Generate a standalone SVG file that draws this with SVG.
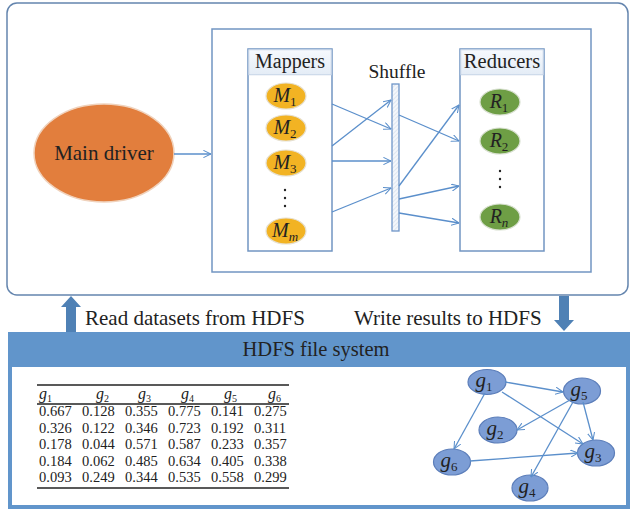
<svg xmlns="http://www.w3.org/2000/svg" width="630" height="509" viewBox="0 0 630 509">
<defs>
<style>
text{font-family:'Liberation Serif','Times New Roman','DejaVu Serif','Noto Serif',serif;fill:#222}
.it{font-style:italic}
.box{fill:#fff;stroke:#7295C2;stroke-width:1.5}
.ln{stroke:#5B8FCB;stroke-width:1.3;fill:none;marker-end:url(#ah)}
.gn{fill:#7C9DD5;stroke:#5C7EBA;stroke-width:1.2}
.mp{fill:#F2B323;stroke:#E6E0D0;stroke-width:1.2}
.rd{fill:#6E9E45;stroke:#D8E0D0;stroke-width:1.2}
.blk{fill:#4F81B5}
.rule{stroke:#222;stroke-width:1.3}
</style>
<marker id="ah" viewBox="0 0 10 10" refX="9.5" refY="5" markerWidth="8" markerHeight="8" markerUnits="userSpaceOnUse" orient="auto">
<path d="M0,0.5 L9.5,5 L0,9.5" fill="none" stroke="#5B8FCB" stroke-width="1.3"/>
</marker>
<pattern id="hatch" width="3" height="3" patternUnits="userSpaceOnUse" patternTransform="rotate(45)">
<rect width="3" height="3" fill="#F4F7FB"/>
<line x1="0" y1="0" x2="0" y2="3" stroke="#C9D6E8" stroke-width="1"/>
</pattern>
<linearGradient id="hdr" x1="0" y1="0" x2="0" y2="1">
<stop offset="0" stop-color="#F6F9FD"/>
<stop offset="1" stop-color="#E4ECF6"/>
</linearGradient>
</defs>

<g id="outer-frame">
<rect x="7" y="3" width="621" height="292" rx="10" fill="#fff" stroke="#6485AE" stroke-width="1.5"/>
</g>

<g id="main-driver">
<ellipse cx="104" cy="153" rx="70" ry="49" fill="#E27E3D" stroke="#F0D2BC" stroke-width="1.5"/>
<text x="104" y="160" font-size="21" text-anchor="middle">Main driver</text>
</g>

<g id="mapreduce-frame">
<rect class="box" x="212" y="29" width="379" height="243"/>
</g>

<g id="mappers">
<rect class="box" x="248" y="49" width="84" height="202"/>
<rect x="248.75" y="49.75" width="82.5" height="25" fill="url(#hdr)" stroke="#C5D3E6" stroke-width="1"/>
<text x="290" y="68" font-size="20" text-anchor="middle">Mappers</text>
<g id="m1"><ellipse class="mp" cx="286" cy="96" rx="20" ry="13"/><text class="it" x="285" y="102" font-size="20" text-anchor="middle">M<tspan font-style="normal" font-size="13" dy="4">1</tspan></text></g>
<g id="m2"><ellipse class="mp" cx="286" cy="128" rx="20" ry="13"/><text class="it" x="285" y="134" font-size="20" text-anchor="middle">M<tspan font-style="normal" font-size="13" dy="4">2</tspan></text></g>
<g id="m3"><ellipse class="mp" cx="286" cy="163" rx="20" ry="13"/><text class="it" x="285" y="169" font-size="20" text-anchor="middle">M<tspan font-style="normal" font-size="13" dy="4">3</tspan></text></g>
<g id="mdots" fill="#222"><circle cx="285" cy="190" r="1.2"/><circle cx="285" cy="198" r="1.2"/><circle cx="285" cy="206" r="1.2"/></g>
<g id="mm"><ellipse class="mp" cx="286" cy="231" rx="20" ry="13"/><text class="it" x="285" y="237" font-size="20" text-anchor="middle">M<tspan font-size="13" dy="4">m</tspan></text></g>
</g>

<g id="shuffle">
<text x="397" y="78" font-size="19.5" text-anchor="middle">Shuffle</text>
<rect x="392" y="84" width="7" height="147" fill="url(#hatch)" stroke="#6F96C8" stroke-width="1.3"/>
</g>

<g id="reducers">
<rect class="box" x="460" y="49" width="84" height="202"/>
<rect x="460.75" y="49.75" width="82.5" height="25" fill="url(#hdr)" stroke="#C5D3E6" stroke-width="1"/>
<text x="502" y="68" font-size="20.5" text-anchor="middle">Reducers</text>
<g id="r1"><ellipse class="rd" cx="500" cy="102" rx="20" ry="13"/><text class="it" x="499" y="108" font-size="20" text-anchor="middle">R<tspan font-style="normal" font-size="13" dy="4">1</tspan></text></g>
<g id="r2"><ellipse class="rd" cx="500" cy="141" rx="20" ry="13"/><text class="it" x="499" y="147" font-size="20" text-anchor="middle">R<tspan font-style="normal" font-size="13" dy="4">2</tspan></text></g>
<g id="rdots" fill="#222"><circle cx="500" cy="171" r="1.2"/><circle cx="500" cy="179" r="1.2"/><circle cx="500" cy="187" r="1.2"/></g>
<g id="rn"><ellipse class="rd" cx="500" cy="217" rx="20" ry="13"/><text class="it" x="499" y="223" font-size="20" text-anchor="middle">R<tspan font-size="13" dy="4">n</tspan></text></g>
</g>

<g id="hdfs">
<rect x="8" y="332" width="622" height="177" fill="#6195CB"/>
<rect x="12" y="367" width="614" height="138" fill="#fff"/>
<text x="316" y="356" font-size="20.5" text-anchor="middle">HDFS file system</text>
</g>

<g id="table" font-size="14.5">
<line class="rule" x1="37" y1="385" x2="289" y2="385"/>
<line class="rule" x1="37" y1="404" x2="289" y2="404" stroke-width="1"/>
<line class="rule" x1="37" y1="488" x2="289" y2="488"/>
<text class="it" x="39" y="399" font-size="16">g<tspan font-style="normal" font-size="10" dy="3">1</tspan></text>
<text class="it" x="96" y="399" font-size="16">g<tspan font-style="normal" font-size="10" dy="3">2</tspan></text>
<text class="it" x="138" y="399" font-size="16">g<tspan font-style="normal" font-size="10" dy="3">3</tspan></text>
<text class="it" x="181" y="399" font-size="16">g<tspan font-style="normal" font-size="10" dy="3">4</tspan></text>
<text class="it" x="224" y="399" font-size="16">g<tspan font-style="normal" font-size="10" dy="3">5</tspan></text>
<text class="it" x="268" y="399" font-size="16">g<tspan font-style="normal" font-size="10" dy="3">6</tspan></text>
<g>
<text x="39" y="416">0.667</text><text x="82" y="416">0.128</text><text x="125" y="416">0.355</text><text x="168" y="416">0.775</text><text x="211" y="416">0.141</text><text x="254" y="416">0.275</text>
<text x="39" y="433">0.326</text><text x="82" y="433">0.122</text><text x="125" y="433">0.346</text><text x="168" y="433">0.723</text><text x="211" y="433">0.192</text><text x="254" y="433">0.311</text>
<text x="39" y="449">0.178</text><text x="82" y="449">0.044</text><text x="125" y="449">0.571</text><text x="168" y="449">0.587</text><text x="211" y="449">0.233</text><text x="254" y="449">0.357</text>
<text x="39" y="466">0.184</text><text x="82" y="466">0.062</text><text x="125" y="466">0.485</text><text x="168" y="466">0.634</text><text x="211" y="466">0.405</text><text x="254" y="466">0.338</text>
<text x="39" y="482">0.093</text><text x="82" y="482">0.249</text><text x="125" y="482">0.344</text><text x="168" y="482">0.535</text><text x="211" y="482">0.558</text><text x="254" y="482">0.299</text>
</g>
</g>

<g id="graph-nodes">
<g id="g1"><ellipse class="gn" cx="487" cy="382" rx="19" ry="12.5"/><text class="it" x="484" y="387" font-size="21" text-anchor="middle">g<tspan font-style="normal" font-size="13" dy="4">1</tspan></text></g>
<g id="g5"><ellipse class="gn" cx="582" cy="391" rx="18.5" ry="13"/><text class="it" x="579" y="396" font-size="21" text-anchor="middle">g<tspan font-style="normal" font-size="13" dy="4">5</tspan></text></g>
<g id="g2"><ellipse class="gn" cx="498" cy="430" rx="19" ry="13"/><text class="it" x="495" y="435" font-size="21" text-anchor="middle">g<tspan font-style="normal" font-size="13" dy="4">2</tspan></text></g>
<g id="g3"><ellipse class="gn" cx="596" cy="453" rx="18.5" ry="13"/><text class="it" x="593" y="458" font-size="21" text-anchor="middle">g<tspan font-style="normal" font-size="13" dy="4">3</tspan></text></g>
<g id="g6"><ellipse class="gn" cx="452" cy="462" rx="18.5" ry="13"/><text class="it" x="449" y="467" font-size="21" text-anchor="middle">g<tspan font-style="normal" font-size="13" dy="4">6</tspan></text></g>
<g id="g4"><ellipse class="gn" cx="530" cy="488" rx="18" ry="13"/><text class="it" x="527" y="493" font-size="21" text-anchor="middle">g<tspan font-style="normal" font-size="13" dy="4">4</tspan></text></g>
</g>

<g id="connectors">
<line class="ln" x1="174" y1="154" x2="211" y2="154"/>
<line class="ln" x1="332" y1="104" x2="391" y2="129"/>
<line class="ln" x1="332" y1="146" x2="391" y2="100"/>
<line class="ln" x1="332" y1="161" x2="391" y2="161"/>
<line class="ln" x1="332" y1="212" x2="391" y2="188"/>
<line class="ln" x1="399" y1="115" x2="459" y2="141"/>
<line class="ln" x1="399" y1="186" x2="459" y2="105"/>
<line class="ln" x1="399" y1="199" x2="459" y2="186"/>
<line class="ln" x1="399" y1="213" x2="459" y2="223"/>
<line class="ln" x1="505" y1="382" x2="563" y2="392"/>
<line class="ln" x1="485" y1="393" x2="454" y2="449"/>
<line class="ln" x1="502" y1="392" x2="583" y2="444"/>
<line class="ln" x1="570" y1="400" x2="517" y2="430"/>
<line class="ln" x1="583" y1="402" x2="593" y2="440"/>
<line class="ln" x1="573" y1="402" x2="531" y2="477"/>
<line class="ln" x1="470" y1="461" x2="578" y2="453"/>
<polygon class="blk" points="66,332 66,307 61,307 71,296 81,307 76,307 76,332"/>
<polygon class="blk" points="559,296 569,296 569,320 574,320 564,331 554,320 559,320"/>
</g>

<g id="labels">
<text x="85" y="325" font-size="21">Read datasets from HDFS</text>
<text x="354" y="325" font-size="21">Write results to HDFS</text>
</g>
</svg>
